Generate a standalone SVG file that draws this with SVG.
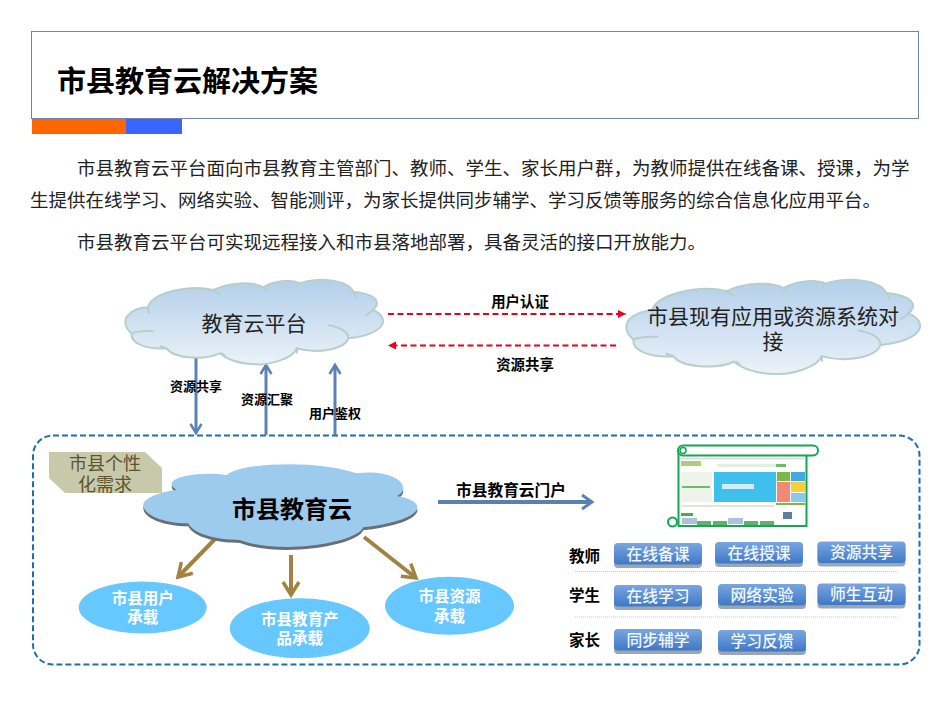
<svg xmlns="http://www.w3.org/2000/svg" xmlns:xlink="http://www.w3.org/1999/xlink" width="950" height="713" viewBox="0 0 950 713">
<style>
text{font-family:"Liberation Sans","Noto Sans CJK SC",sans-serif;fill:#111}
.body{font-size:18.5px;fill:#222}
.lab{font-size:13px;font-weight:700;text-anchor:middle;fill:#000}
.lab2{font-size:14.4px;font-weight:700;text-anchor:middle;fill:#000}
.big{font-size:21px;text-anchor:middle;fill:#222}
.ell{fill:#66c8ff}
.ellt{font-size:15.5px;font-weight:700;fill:#fff;text-anchor:middle}
.btn{fill:url(#bg);stroke:#a3adb8;stroke-width:0}
.btnb{fill:#9aa6b4}
.btnt{font-size:15.8px;font-weight:500;fill:#f2f7fd;text-anchor:middle}
.role{font-size:15.5px;font-weight:700;fill:#000}
.cloud{fill:url(#cg);stroke:#b7cfc9;stroke-width:2}
.inner{fill:none;stroke:#b7cfc9;stroke-width:2}
.blue{fill:none;stroke:#5b82b8;stroke-width:3}
.brown{fill:none;stroke:#a28240;stroke-width:4}
.red{fill:none;stroke:#e8001c;stroke-width:2;stroke-dasharray:6 3.5}
.sep{stroke:#c4c9cf;stroke-width:1;stroke-dasharray:1 1}
</style>
<defs>
<linearGradient id="cg" x1="0" y1="0" x2="0" y2="1"><stop offset="0" stop-color="#b3cfea"/><stop offset="1" stop-color="#ebf2f9"/></linearGradient>
<linearGradient id="bg" x1="0" y1="0" x2="0" y2="1"><stop offset="0" stop-color="#79a6e0"/><stop offset="1" stop-color="#3f78c6"/></linearGradient>
<path id="cl" vector-effect="non-scaling-stroke" d="M445 112C445 75 560 40 640 60C690 35 760 35 790 52C830 28 880 30 900 40C960 20 1045 30 1060 65C1110 70 1135 85 1130 105C1125 115 1120 118 1118 120C1145 130 1155 150 1146 165C1130 190 1090 200 1045 205C1035 235 960 255 890 235C880 265 810 285 770 283C720 283 680 268 660 250C610 272 520 265 500 235C440 240 390 220 395 190C375 175 370 150 385 135C400 120 425 112 445 112Z"/>
<path id="cli" vector-effect="non-scaling-stroke" d="M445 112C443 118 445 125 450 130M640 60C650 65 655 70 660 75M790 52C795 58 798 60 800 64M900 40C895 45 892 48 890 52M1060 65C1066 72 1068 78 1066 84M1130 105C1120 125 1105 132 1095 136M1045 205C1045 185 1020 172 985 165M890 235C892 242 892 245 890 250M660 250C665 250 670 252 675 258M500 235C490 232 485 230 480 228M395 190C420 180 440 183 460 183"/>
<path id="c3" d="M455 130C460 105 560 95 620 105C670 65 900 60 1010 100C1090 90 1150 115 1150 145C1150 155 1140 165 1130 168C1175 175 1195 190 1192 205C1185 235 1100 255 1030 262C1010 310 780 345 660 300C600 300 520 285 505 250C430 250 370 225 370 195C370 175 420 155 470 150C460 145 455 138 455 130Z"/>
<marker id="ob" markerUnits="userSpaceOnUse" markerWidth="14" markerHeight="14" refX="11" refY="7" orient="auto"><path d="M2 1.5L11 7L2 12.5" fill="none" stroke="#5b82b8" stroke-width="2.5"/></marker>
<marker id="ob2" markerUnits="userSpaceOnUse" markerWidth="16" markerHeight="18" refX="13" refY="9" orient="auto"><path d="M3 2L13 9L3 16" fill="none" stroke="#5b82b8" stroke-width="3"/></marker>
<marker id="ob3" markerUnits="userSpaceOnUse" markerWidth="18" markerHeight="20" refX="15" refY="10" orient="auto"><path d="M2 2L15 10L2 18" fill="none" stroke="#a28240" stroke-width="3.5"/></marker>
<marker id="rd" markerUnits="userSpaceOnUse" markerWidth="9" markerHeight="10" refX="8" refY="5" orient="auto"><path d="M0 1L8 5L0 9Z" fill="#e8001c"/></marker>
</defs>
<rect width="950" height="713" fill="#fff"/>

<g id="header">
<rect x="31.5" y="31.5" width="887" height="87" fill="#fff" stroke="#6d84b0" stroke-width="1"/>
<rect x="32" y="119" width="94" height="15" fill="#ff6600"/>
<rect x="126" y="119" width="56" height="15" fill="#3a66ff"/>
<text x="57" y="92" style="font-size:29px;font-weight:700;fill:#000">市县教育云解决方案</text>
</g>

<g id="intro">
<text class="body" x="77" y="175">市县教育云平台面向市县教育主管部门、教师、学生、家长用户群，为教师提供在线备课、授课，为学</text>
<text class="body" x="30" y="207">生提供在线学习、网络实验、智能测评，为家长提供同步辅学、学习反馈等服务的综合信息化应用平台。</text>
<text class="body" x="77" y="249">市县教育云平台可实现远程接入和市县落地部署，具备灵活的接口开放能力。</text>
</g>

<g id="container"><rect x="33" y="435.500" width="886.500" height="229" rx="20" fill="none" stroke="#1f6fad" stroke-width="2" stroke-dasharray="6 3"/></g>

<g id="connectors">
<path class="blue" marker-end="url(#ob)" d="M196 357V433"/>
<path class="blue" marker-end="url(#ob)" d="M266 435V365"/>
<path class="blue" marker-end="url(#ob)" d="M335 435V365"/>
<path class="red" marker-end="url(#rd)" d="M388 314H626"/>
<path class="red" marker-end="url(#rd)" d="M616 345.500H388"/>
<path fill="none" stroke="#5b7fb0" stroke-width="4" marker-end="url(#ob2)" d="M438 502H592"/>
<path class="brown" marker-end="url(#ob3)" d="M215 539L178 577"/>
<path class="brown" marker-end="url(#ob3)" d="M291 555V595"/>
<path class="brown" marker-end="url(#ob3)" d="M364 537L416 578"/>
</g>

<g id="labels">
<text class="lab" x="196" y="391">资源共享</text>
<text class="lab" x="267" y="404">资源汇聚</text>
<text class="lab" x="335" y="418">用户鉴权</text>
<text class="lab2" x="520" y="307">用户认证</text>
<text class="lab2" x="525" y="370">资源共享</text>
<text x="511" y="496" style="font-size:15.7px;font-weight:700;text-anchor:middle;fill:#000">市县教育云门户</text>
</g>

<g id="cloud-platform">
<g transform="translate(0 270) scale(.3333)"><use xlink:href="#cl" class="cloud"/><use xlink:href="#cli" class="inner"/></g>
<text class="big" x="254" y="331">教育云平台</text>
</g>

<g id="cloud-existing">
<g transform="translate(483.400 268.800) scale(.38 .3717)"><use xlink:href="#cl" class="cloud"/><use xlink:href="#cli" class="inner"/></g>
<text class="big" x="773" y="324">市县现有应用或资源系统对</text>
<text class="big" x="773" y="349">接</text>
</g>

<g id="need-tag">
<polygon points="49,452 145,452 162,468 162,493 65,493 49,478" fill="#c8c9ab"/>
<text x="105" y="470" style="font-size:18px;text-anchor:middle;fill:#5c5330">市县个性</text>
<text x="105" y="491" style="font-size:18px;text-anchor:middle;fill:#5c5330">化需求</text>
</g>

<g id="cloud-city">
<g transform="translate(20 440) scale(.3333)">
<use xlink:href="#c3" y="9" fill="#6a6f75"/>
<use xlink:href="#c3" fill="#9dcbee"/>
</g>
<text x="292" y="518" style="font-size:24px;font-weight:700;text-anchor:middle;fill:#000">市县教育云</text>
</g>

<g id="carrier-user"><ellipse class="ell" cx="142.700" cy="607.500" rx="64" ry="26"/><text class="ellt" x="142.700" y="604">市县用户</text><text class="ellt" x="142.700" y="623">承载</text></g>
<g id="carrier-product"><ellipse class="ell" cx="299.700" cy="628.300" rx="70" ry="30"/><text class="ellt" x="299.700" y="625">市县教育产</text><text class="ellt" x="299.700" y="644">品承载</text></g>
<g id="carrier-resource"><ellipse class="ell" cx="449.500" cy="605.800" rx="64.500" ry="29"/><text class="ellt" x="449.500" y="602">市县资源</text><text class="ellt" x="449.500" y="622">承载</text></g>

<g id="portal">
<rect x="678" y="455" width="129" height="72" fill="#fff"/>
<path d="M678.500 450V526H806.500V455" fill="none" stroke="#10a850" stroke-width="2"/>
<rect x="678" y="445.500" width="140" height="10" rx="5" fill="#fff" stroke="#10a850" stroke-width="2"/>
<circle cx="683" cy="450.500" r="3" fill="none" stroke="#10a850" stroke-width="1.500"/>
<circle cx="672.500" cy="522" r="4.500" fill="#fff" stroke="#10a850" stroke-width="2"/>
<rect x="681" y="458" width="123" height="1.500" fill="#ddd"/>
<rect x="681" y="461" width="20" height="5" fill="#a9cf7a"/>
<rect x="717" y="464" width="60" height="3" fill="#e3efe0"/>
<rect x="776" y="464" width="10" height="3" fill="#6dbb6d"/>
<rect x="681" y="472" width="31" height="30" fill="#eef4ea"/>
<rect x="682" y="486" width="28" height="2" fill="#6dbb6d"/>
<rect x="714" y="472" width="62" height="30" fill="#3fc0ec"/>
<rect x="722" y="484" width="32" height="5" fill="#cfeefa"/>
<rect x="777" y="472" width="13" height="9" fill="#79b94a"/>
<rect x="791" y="472" width="14" height="9" fill="#3fa9e0"/>
<rect x="777" y="482" width="13" height="20" fill="#f08a76"/>
<rect x="791" y="482" width="14" height="10" fill="#f5cf3c"/>
<rect x="791" y="493" width="14" height="9" fill="#8fc8e4"/>
<rect x="681" y="505" width="94" height="2" fill="#dbe8d6"/>
<rect x="681" y="513" width="12" height="3" fill="#4fa84f"/>
<rect x="682" y="518" width="15" height="6" fill="#a9c4d8"/>
<rect x="697" y="521" width="14" height="4" fill="#5fb36a"/>
<rect x="713" y="521" width="14" height="4" fill="#5fb36a"/>
<rect x="728" y="518" width="15" height="6" fill="#a9c4d8"/>
<rect x="744" y="521" width="14" height="4" fill="#5fb36a"/>
<rect x="760" y="521" width="14" height="4" fill="#5fb36a"/>
<rect x="776" y="503" width="29" height="2" fill="#79b94a"/>
<rect x="783" y="512" width="9" height="7" fill="#5b7f9c"/>
</g>

<g id="roles">
<text class="role" x="569" y="562">教师</text>
<text class="role" x="569" y="601">学生</text>
<text class="role" x="569" y="645.500">家长</text>
<line class="sep" x1="575" y1="571.500" x2="898" y2="571.500"/>
<line class="sep" x1="575" y1="617" x2="898" y2="617"/>
</g>

<g id="btn-1"><rect class="btnb" x="614" y="544" width="88" height="24" rx="4"/><rect class="btn" x="614" y="543" width="88" height="21.500" rx="4"/><text class="btnt" x="658" y="560">在线备课</text></g>
<g id="btn-2"><rect class="btnb" x="715" y="543" width="88" height="24" rx="4"/><rect class="btn" x="715" y="542" width="88" height="21.500" rx="4"/><text class="btnt" x="759" y="559">在线授课</text></g>
<g id="btn-3"><rect class="btnb" x="817.500" y="542.500" width="88" height="24" rx="4"/><rect class="btn" x="817.500" y="541.500" width="88" height="21.500" rx="4"/><text class="btnt" x="861.500" y="558">资源共享</text></g>
<g id="btn-4"><rect class="btnb" x="614" y="586" width="88" height="24" rx="4"/><rect class="btn" x="614" y="585" width="88" height="21.500" rx="4"/><text class="btnt" x="658" y="602">在线学习</text></g>
<g id="btn-5"><rect class="btnb" x="718" y="585" width="88" height="24" rx="4"/><rect class="btn" x="718" y="584" width="88" height="21.500" rx="4"/><text class="btnt" x="762" y="601">网络实验</text></g>
<g id="btn-6"><rect class="btnb" x="817.500" y="584.500" width="88" height="24" rx="4"/><rect class="btn" x="817.500" y="583.500" width="88" height="21.500" rx="4"/><text class="btnt" x="861.500" y="600">师生互动</text></g>
<g id="btn-7"><rect class="btnb" x="614" y="630" width="88" height="24" rx="4"/><rect class="btn" x="614" y="629" width="88" height="21.500" rx="4"/><text class="btnt" x="658" y="646">同步辅学</text></g>
<g id="btn-8"><rect class="btnb" x="718" y="631" width="88" height="24" rx="4"/><rect class="btn" x="718" y="630" width="88" height="21.500" rx="4"/><text class="btnt" x="762" y="647">学习反馈</text></g>
</svg>
